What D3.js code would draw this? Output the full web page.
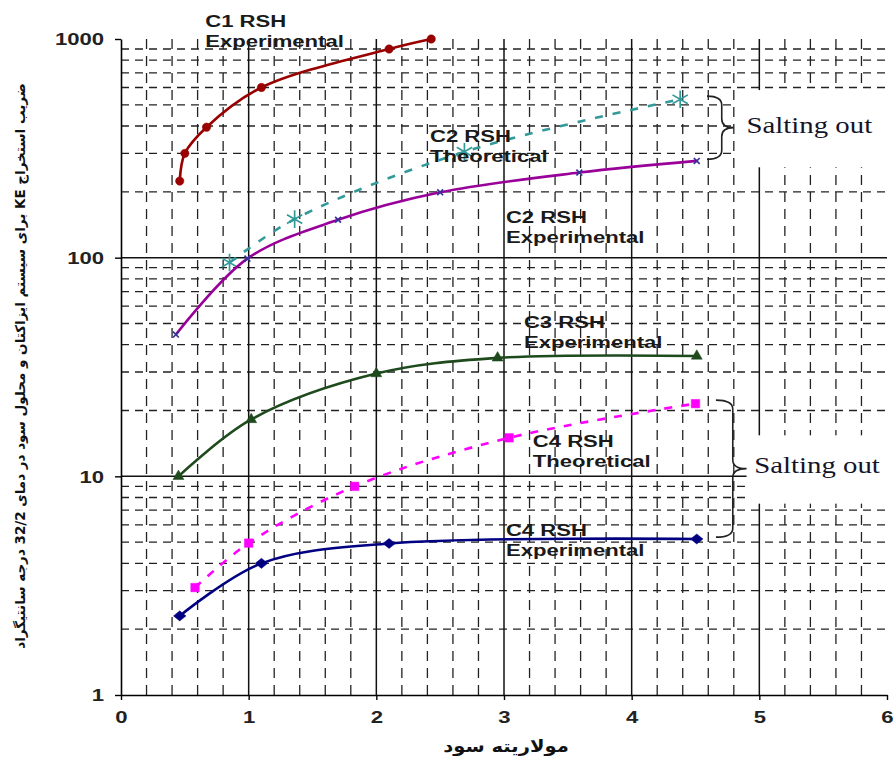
<!DOCTYPE html>
<html>
<head>
<meta charset="utf-8">
<script src="https://cdn.jsdelivr.net/npm/d3@7"></script>
<style>
  html, body { margin: 0; padding: 0; background: #fff; }
  svg { display: block; }
</style>
</head>
<body>
<svg id="chart"></svg>
<script>
// -- DATA --
const xTicks = [0, 1, 2, 3, 4, 5, 6];
const yTicks = [1, 10, 100, 1000];

// [molarity, KE]
const c1Experimental = [[0.46, 224], [0.50, 300], [0.67, 395], [1.10, 600], [2.10, 900], [2.43, 1000]];
const c2Theoretical = [[0.85, 95], [1.36, 150], [2.69, 305], [4.38, 530]];
const c2Experimental = [[0.43, 44.5], [0.99, 99], [1.70, 149], [2.50, 199], [3.59, 245], [4.51, 277]];
const c3Experimental = [[0.45, 10], [1.02, 18.2], [2.0, 29.5], [2.95, 34.8], [4.51, 35.5]];
const c4Theoretical = [[0.58, 3.1], [1.0, 4.95], [1.83, 9.0], [3.04, 15], [4.5, 21.5]];
const c4Experimental = [[0.46, 2.3], [1.1, 4.0], [2.1, 4.93], [4.51, 5.17]];

const seriesLabels = [
  ["C1 RSH", "Experimental"],
  ["C2 RSH", "Theoretical"],
  ["C2 RSH", "Experimental"],
  ["C3 RSH", "Experimental"],
  ["C4 RSH", "Theoretical"],
  ["C4 RSH", "Experimental"]
];
const noteText = "Salting out";
const xTitle = "مولاریته سود";
const yTitle = "ضریب استخراج KE برای سیستم ایزاکتان و محلول سود در دمای 32/2 درجه سانتیگراد";

// -- LAYOUT --
const W = 896, H = 759;
const svg = d3.select("#chart").attr("width", W).attr("height", H);

const x = d3.scaleLinear().domain([0, 6]).range([121, 887]);
const y = d3.scaleLog().domain([1, 1000]).range([695, 39]);

const sansFont = "'Liberation Sans', Arial, sans-serif";
const stretch = 1.38; // the source picture is stretched sideways

// diamond like the excel marker (wider than d3's)
const excelDiamond = {
  draw(ctx, size) {
    const r = Math.sqrt(size) / 2;
    ctx.moveTo(0, -r * 0.85);
    ctx.lineTo(r * 1.05, 0);
    ctx.lineTo(0, r * 0.85);
    ctx.lineTo(-r * 1.05, 0);
    ctx.closePath();
  }
};

const series = [
  { data: c1Experimental, color: "#990000", dash: null, symbol: d3.symbolCircle, size: 55, mark: "#990000", fill: true,
    label: seriesLabels[0], at: [0.66, 1135] },
  { data: c2Theoretical, color: "#339999", dash: "8,10", symbol: d3.symbolAsterisk, size: 220, mark: "#339999", fill: false,
    label: seriesLabels[1], at: [2.42, 339] },
  { data: c2Experimental, color: "#990099", dash: null, symbol: d3.symbolTimes, size: 24, mark: "#333399", fill: false,
    label: seriesLabels[2], at: [3.015, 144] },
  { data: c3Experimental, color: "#1e4a1e", dash: null, symbol: d3.symbolTriangle, size: 52, mark: "#1e4a1e", fill: true,
    label: seriesLabels[3], at: [3.156, 47.7] },
  { data: c4Theoretical, color: "#ff00ff", dash: "8,9", symbol: d3.symbolSquare, size: 72, mark: "#ff00ff", fill: true,
    label: seriesLabels[4], at: [3.226, 13.6] },
  { data: c4Experimental, color: "#000080", dash: null, symbol: excelDiamond, size: 140, mark: "#000080", fill: true,
    label: seriesLabels[5], at: [3.015, 5.35] }
];

// -- GRID --
const grid = svg.append("g");
const xMinor = d3.range(1, 30).filter((i) => i % 5).map((i) => i / 5);
const yMinor = [1, 10, 100].flatMap((d) => d3.range(2, 10).map((k) => d * k));

grid.selectAll(".vminor").data(xMinor).enter().append("line")
  .attr("x1", (d) => x(d)).attr("x2", (d) => x(d))
  .attr("y1", y(1000)).attr("y2", y(1))
  .style("stroke", "#222").style("stroke-width", 1.3).style("stroke-dasharray", "10,7");
grid.selectAll(".hminor").data(yMinor).enter().append("line")
  .attr("x1", x(0)).attr("x2", x(6))
  .attr("y1", (d) => y(d)).attr("y2", (d) => y(d))
  .style("stroke", "#222").style("stroke-width", 1.3).style("stroke-dasharray", "8,6");
grid.selectAll(".vmajor").data(xTicks.filter((d) => d > 0 && d < 6)).enter().append("line")
  .attr("x1", (d) => x(d)).attr("x2", (d) => x(d))
  .attr("y1", y(1000)).attr("y2", y(1))
  .style("stroke", "#111").style("stroke-width", 1.5);
grid.selectAll(".hmajor").data(yTicks.filter((d) => d > 1 && d < 1000)).enter().append("line")
  .attr("x1", x(0)).attr("x2", x(6))
  .attr("y1", (d) => y(d)).attr("y2", (d) => y(d))
  .style("stroke", "#111").style("stroke-width", 1.5);

// -- SALTING OUT NOTES (white box over grid, brace, text) --
const notes = [
  { box: [4.82, 584, 259], brace: [4.59, 4.80, 548, 282], text: [4.90, 370] },
  { box: [4.90, 15.4, 7.5], brace: [4.66, 4.90, 22.3, 5.27], text: [4.96, 10.4] }
];
notes.forEach((n) => {
  svg.append("rect")
    .attr("x", x(n.box[0])).attr("y", y(n.box[1]))
    .attr("width", W - x(n.box[0])).attr("height", y(n.box[2]) - y(n.box[1]))
    .style("fill", "#fff");
});

// -- AXES --
const yAxis = svg.append("g")
  .attr("transform", `translate(${x(0)},0)`)
  .call(d3.axisLeft(y).tickValues(yTicks).tickFormat(d3.format("d")).tickSize(6).tickSizeOuter(0));
const xAxis = svg.append("g")
  .attr("transform", `translate(0,${y(1)})`)
  .call(d3.axisBottom(x).tickValues(xTicks).tickFormat(d3.format("d")).tickSize(5).tickSizeOuter(0));
[yAxis, xAxis].forEach((a) => {
  a.select(".domain").style("stroke", "#000").style("stroke-width", 1.6);
  a.selectAll(".tick line").style("stroke", "#000").style("stroke-width", 1.4);
  a.selectAll(".tick text")
    .style("font-family", sansFont).style("font-weight", "bold")
    .style("font-size", "16px").style("fill", "#222");
});
// widen the digits the same way as the picture
yAxis.selectAll(".tick text")
  .attr("x", null).attr("dy", "0.36em")
  .attr("transform", `translate(-17,0) scale(${stretch},1)`);
xAxis.selectAll(".tick text")
  .attr("y", null).attr("dy", "0.36em")
  .attr("transform", `translate(0,22) scale(${stretch},1)`);

// -- SERIES --
const line = d3.line()
  .x((d) => x(d[0]))
  .y((d) => y(d[1]))
  .curve(d3.curveCatmullRom.alpha(0.5));

series.forEach((s) => {
  svg.append("path")
    .datum(s.data)
    .attr("d", line)
    .style("fill", "none")
    .style("stroke", s.color)
    .style("stroke-width", 2.6)
    .style("stroke-dasharray", s.dash);

  svg.append("g").selectAll("path")
    .data(s.data).enter().append("path")
    .attr("transform", (d) => `translate(${x(d[0])},${y(d[1])})`)
    .attr("d", d3.symbol().type(s.symbol).size(s.size))
    .style("fill", s.fill ? s.mark : "none")
    .style("stroke", s.mark)
    .style("stroke-width", s.fill ? 0.5 : 1.7);
});

// -- SERIES LABELS --
series.forEach((s) => {
  const t = svg.append("text")
    .attr("transform", `translate(${x(s.at[0])},${y(s.at[1])}) scale(${stretch},1)`)
    .style("font-family", sansFont).style("font-weight", "bold")
    .style("font-size", "16px").style("fill", "#1a1a1a");
  t.selectAll("tspan").data(s.label).enter().append("tspan")
    .attr("x", 0)
    .attr("y", (d, i) => i * 20)
    .text((d) => d);
});

// braces + note text
notes.forEach((n) => {
  const bx = x(n.brace[0]), tx = x(n.brace[1]);
  const yTop = y(n.brace[2]), yBot = y(n.brace[3]);
  const yMid = (yTop + yBot) / 2;
  const w = (tx - bx) * 0.55, r = 9;
  const p = d3.path();
  p.moveTo(bx, yTop);
  p.quadraticCurveTo(bx + w, yTop, bx + w, yTop + r);
  p.lineTo(bx + w, yMid - r);
  p.quadraticCurveTo(bx + w, yMid, tx, yMid);
  p.quadraticCurveTo(bx + w, yMid, bx + w, yMid + r);
  p.lineTo(bx + w, yBot - r);
  p.quadraticCurveTo(bx + w, yBot, bx, yBot);
  svg.append("path").attr("d", p.toString())
    .style("fill", "none").style("stroke", "#222").style("stroke-width", 1.6);

  svg.append("text")
    .attr("transform", `translate(${x(n.text[0])},${y(n.text[1])}) scale(1.2,1)`)
    .text(noteText)
    .style("font-family", "'Liberation Serif', 'Times New Roman', serif")
    .style("font-size", "24px").style("fill", "#141428");
});

// -- TITLES --
svg.append("text")
  .attr("transform", `translate(${(x(2) + x(4)) / 2 + 2},752) scale(1.15,1)`)
  .attr("text-anchor", "middle")
  .attr("direction", "rtl")
  .text(xTitle)
  .style("font-family", "'DejaVu Sans', sans-serif")
  .style("font-weight", "bold").style("font-size", "17px").style("fill", "#111");

svg.append("text")
  .attr("transform", `translate(25,${(85 + 647) / 2}) rotate(-90)`)
  .attr("text-anchor", "middle")
  .attr("direction", "rtl")
  .text(yTitle)
  .style("font-family", "'DejaVu Sans', sans-serif")
  .style("font-weight", "bold")
  .style("font-size", "13.5px").style("fill", "#111");
</script>
</body>
</html>
